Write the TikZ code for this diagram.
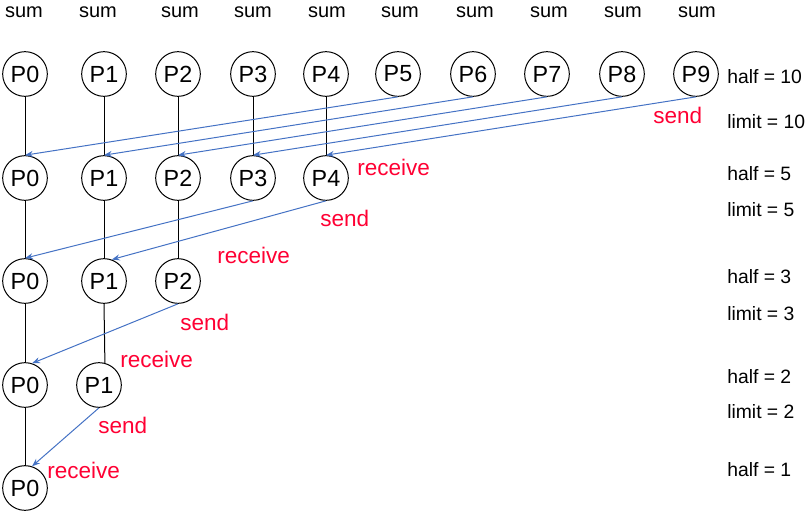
\documentclass[tikz,border=0pt]{standalone}
\usepackage{fontspec}
\setmainfont{Liberation Sans}
\usetikzlibrary{arrows.meta}
\definecolor{msgblue}{HTML}{4472C4}
\definecolor{actred}{HTML}{FF0033}
\tikzset{
  proc/.style={circle,draw,line width=0.75pt,minimum size=33.5pt,inner sep=0pt,
    font=\fontsize{17.5}{19}\selectfont},
  link/.style={line width=0.75pt},
  msg/.style={draw=msgblue,line width=0.75pt,-{Stealth[length=6pt,width=4.5pt]}},
  sumlbl/.style={anchor=base,inner sep=0pt,font=\fontsize{15}{18}\selectfont},
  note/.style={anchor=base west,inner sep=0pt,font=\fontsize{14.5}{17}\selectfont},
  act/.style={anchor=base west,inner sep=0pt,text=actred,font=\fontsize{16.9}{19}\selectfont}
}
\begin{document}
\begin{tikzpicture}[x=0.75pt,y=-0.75pt]
\useasboundingbox (0,0) rectangle (808,511);
% sum row
\foreach \x [count=\i from 0] in {24,98,180,253,327,400,475,549,623,697}
  \node[sumlbl] (sum\i) at (\x,17) {sum};
% processes, one row per step
\foreach \x [count=\i from 0] in {25,104,178,253,326,398,473,547,622,696}
  \node[proc] (r1p\i) at (\x,74) {P\i};
\foreach \x [count=\i from 0] in {25,104,178,253,326}
  \node[proc] (r2p\i) at (\x,178) {P\i};
\foreach \x [count=\i from 0] in {25,104,178}
  \node[proc] (r3p\i) at (\x,281) {P\i};
\node[proc] (r4p0) at (25,385) {P0};
\node[proc] (r4p1) at (99,385) {P1};
\node[proc] (r5p0) at (25,488) {P0};

% lifelines
\foreach \i in {0,...,4}
  \draw[link] (r1p\i) -- (r2p\i);
\foreach \i in {0,...,2}
  \draw[link] (r2p\i) -- (r3p\i);
\draw[link] (r3p0) -- (r4p0);
\draw[link] (r3p1.south) -- (r4p1.75);
\draw[link] (r4p0) -- (r5p0);

% messages
\foreach \i in {0,...,4}
{
  \pgfmathtruncatemacro{\j}{\i+5}
  \draw[msg] (r1p\j.south) -- (r2p\i.north);
}
\draw[msg] (r2p3.south) -- (r3p0.north);
\draw[msg] (r2p4.south) -- (r3p1.70);
\draw[msg] (r3p2.south) -- (r4p0.72);
\draw[msg] (r4p1.south) -- (r5p0.72);

\node[act] (send1) at (653,123) {send};
\node[act] (recv1) at (357,175) {receive};
\node[act] (send2) at (320,226) {send};
\node[act] (recv2) at (217,263) {receive};
\node[act] (send3) at (180,330) {send};
\node[act] (recv3) at (120,367) {receive};
\node[act] (send4) at (98,433) {send};
\node[act] (recv4) at (47,478) {receive};

% values of half and limit
\node[note] (half10) at (727,83) {half = 10};
\node[note] (limit10) at (727,128) {limit = 10};
\node[note] (half5) at (727,180) {half = 5};
\node[note] (limit5) at (727,216) {limit = 5};
\node[note] (half3) at (727,283) {half = 3};
\node[note] (limit3) at (727,320) {limit = 3};
\node[note] (half2) at (727,383) {half = 2};
\node[note] (limit2) at (727,418) {limit = 2};
\node[note] (half1) at (727,476) {half = 1};
\end{tikzpicture}
\end{document}
